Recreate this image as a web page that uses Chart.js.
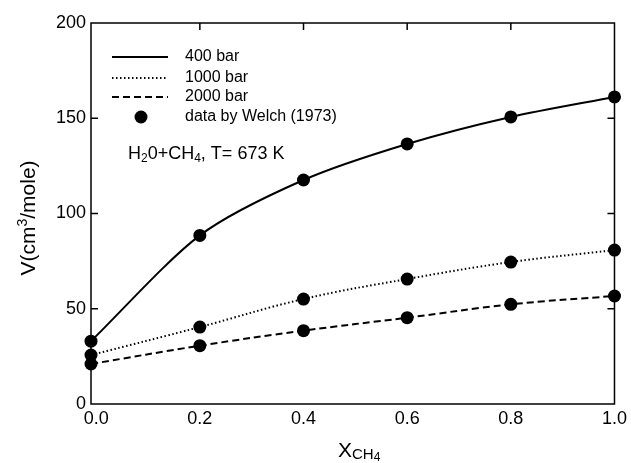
<!DOCTYPE html>
<html>
<head>
<meta charset="utf-8">
<script src="https://cdn.jsdelivr.net/npm/chart.js@4/dist/chart.umd.min.js"></script>
<style>
  html, body { margin: 0; padding: 0; background: #fff; }
  canvas { display: block; }
</style>
</head>
<body>
<canvas id="myChart" width="631" height="463"></canvas>
<script>
// mole fraction of CH4 (first points sit on the left axis)
var xs = [-0.01, 0.2, 0.4, 0.6, 0.8, 1.0];
var v400 = [33, 88.5, 117.6, 136.5, 150.7, 161.2];
var v1000 = [25.7, 40.4, 55.1, 65.6, 74.5, 80.8];
var v2000 = [21, 30.6, 38.5, 45.3, 52.3, 56.7];
var xTicks = [0, 0.2, 0.4, 0.6, 0.8, 1.0];
var yTicks = [0, 50, 100, 150, 200];

var FONT = "'Liberation Sans', Arial, Helvetica, sans-serif";

function pts(ys) {
  return xs.map(function (x, i) { return { x: x, y: ys[i] }; });
}

// pieces of text with size and baseline shift
function drawRuns(ctx, x, y, runs) {
  runs.forEach(function (r) {
    ctx.font = r.size + "px " + FONT;
    ctx.fillText(r.t, x, y + (r.dy || 0));
    x += ctx.measureText(r.t).width;
  });
}

var extras = {
  id: 'extras',
  beforeDraw: function (chart) {
    var c = chart.ctx;
    c.save();
    c.fillStyle = '#fff';
    c.fillRect(0, 0, chart.width, chart.height);
    c.restore();
  },
  beforeDatasetsDraw: function (chart) {
    var c = chart.ctx, a = chart.chartArea;
    var sx = chart.scales.x, sy = chart.scales.y;
    c.save();
    c.strokeStyle = '#000';
    c.lineWidth = 1.5;
    c.strokeRect(a.left, a.top, a.right - a.left, a.bottom - a.top);
    c.beginPath();
    [0.2, 0.4, 0.6, 0.8].forEach(function (v) {
      var px = sx.getPixelForValue(v);
      c.moveTo(px, a.top);
      c.lineTo(px, a.top + 7);
    });
    [50, 100, 150].forEach(function (v) {
      var py = sy.getPixelForValue(v);
      c.moveTo(a.left, py);
      c.lineTo(a.left + 7, py);
      c.moveTo(a.right - 7, py);
      c.lineTo(a.right, py);
    });
    c.stroke();
    c.restore();
  },
  afterDraw: function (chart) {
    var c = chart.ctx;
    c.save();
    c.fillStyle = '#000';
    c.strokeStyle = '#000';
    c.textBaseline = 'alphabetic';

    // axis titles
    drawRuns(c, 338, 457, [
      { t: 'X', size: 21 },
      { t: 'CH', size: 15, dy: 2 },
      { t: '4', size: 12, dy: 4 }
    ]);
    c.save();
    c.translate(35, 218);
    c.rotate(-Math.PI / 2);
    c.font = "21px " + FONT;
    var w = c.measureText('V(cm/mole)').width;
    c.font = "14px " + FONT;
    w += c.measureText('3').width;
    drawRuns(c, -w / 2, 0, [
      { t: 'V(cm', size: 21 },
      { t: '3', size: 14, dy: -8 },
      { t: '/mole)', size: 21 }
    ]);
    c.restore();

    // legend
    var rows = [
      { y: 57, label: '400 bar', dash: [] },
      { y: 78, label: '1000 bar', dash: [1.5, 2.5] },
      { y: 97, label: '2000 bar', dash: [7, 4] }
    ];
    c.lineWidth = 2;
    rows.forEach(function (r) {
      c.setLineDash(r.dash);
      c.beginPath();
      c.moveTo(112, r.y);
      c.lineTo(168, r.y);
      c.stroke();
    });
    c.setLineDash([]);
    c.beginPath();
    c.arc(141, 117, 6.5, 0, Math.PI * 2);
    c.fill();
    c.font = "16px " + FONT;
    c.textBaseline = 'middle';
    rows.forEach(function (r) { c.fillText(r.label, 185, r.y); });
    c.fillText('data by Welch (1973)', 185, 117);

    // annotation
    c.textBaseline = 'alphabetic';
    drawRuns(c, 128, 159, [
      { t: 'H', size: 18 },
      { t: '2', size: 12, dy: 3 },
      { t: '0+CH', size: 18 },
      { t: '4', size: 12, dy: 3 },
      { t: ', T= 673 K', size: 18 }
    ]);
    c.restore();
  }
};

var lineBase = {
  type: 'line',
  borderColor: '#000',
  borderWidth: 2,
  pointRadius: 0,
  fill: false,
  tension: 0.4
};

var ctx = document.getElementById("myChart");
var myChart = new Chart(ctx, {
  type: 'scatter',
  data: {
    datasets: [
      Object.assign({}, lineBase, { label: '400 bar', data: pts(v400), tension: 0.28 }),
      Object.assign({}, lineBase, { label: '1000 bar', data: pts(v1000), borderDash: [1.5, 2.5] }),
      Object.assign({}, lineBase, { label: '2000 bar', data: pts(v2000), borderDash: [7, 4] }),
      {
        label: 'data by Welch (1973)',
        data: pts(v400).concat(pts(v1000), pts(v2000)),
        pointRadius: 6.5,
        pointBackgroundColor: '#000',
        pointBorderWidth: 0,
        clip: false
      }
    ]
  },
  options: {
    responsive: false,
    animation: false,
    devicePixelRatio: 1,
    layout: { padding: { left: 0, top: 23, right: 13, bottom: 0 } },
    plugins: {
      legend: { display: false },
      tooltip: { enabled: false }
    },
    scales: {
      x: {
        type: 'linear',
        min: -0.01,
        max: 1.0,
        grid: { display: false, drawTicks: false },
        border: { display: false },
        afterBuildTicks: function (s) {
          s.ticks = xTicks.map(function (v) { return { value: v }; });
        },
        afterFit: function (s) { s.height = 59; },
        ticks: {
          padding: 4,
          color: '#000',
          font: { family: FONT, size: 18 },
          callback: function (v) { return Number(v).toFixed(1); }
        }
      },
      y: {
        type: 'linear',
        min: 0,
        max: 200,
        grid: { display: false, drawTicks: false },
        border: { display: false },
        afterBuildTicks: function (s) {
          s.ticks = yTicks.map(function (v) { return { value: v }; });
        },
        afterFit: function (s) { s.width = 91; },
        ticks: {
          padding: 5,
          color: '#000',
          font: { family: FONT, size: 18 }
        }
      }
    }
  },
  plugins: [extras]
});
</script>
</body>
</html>
